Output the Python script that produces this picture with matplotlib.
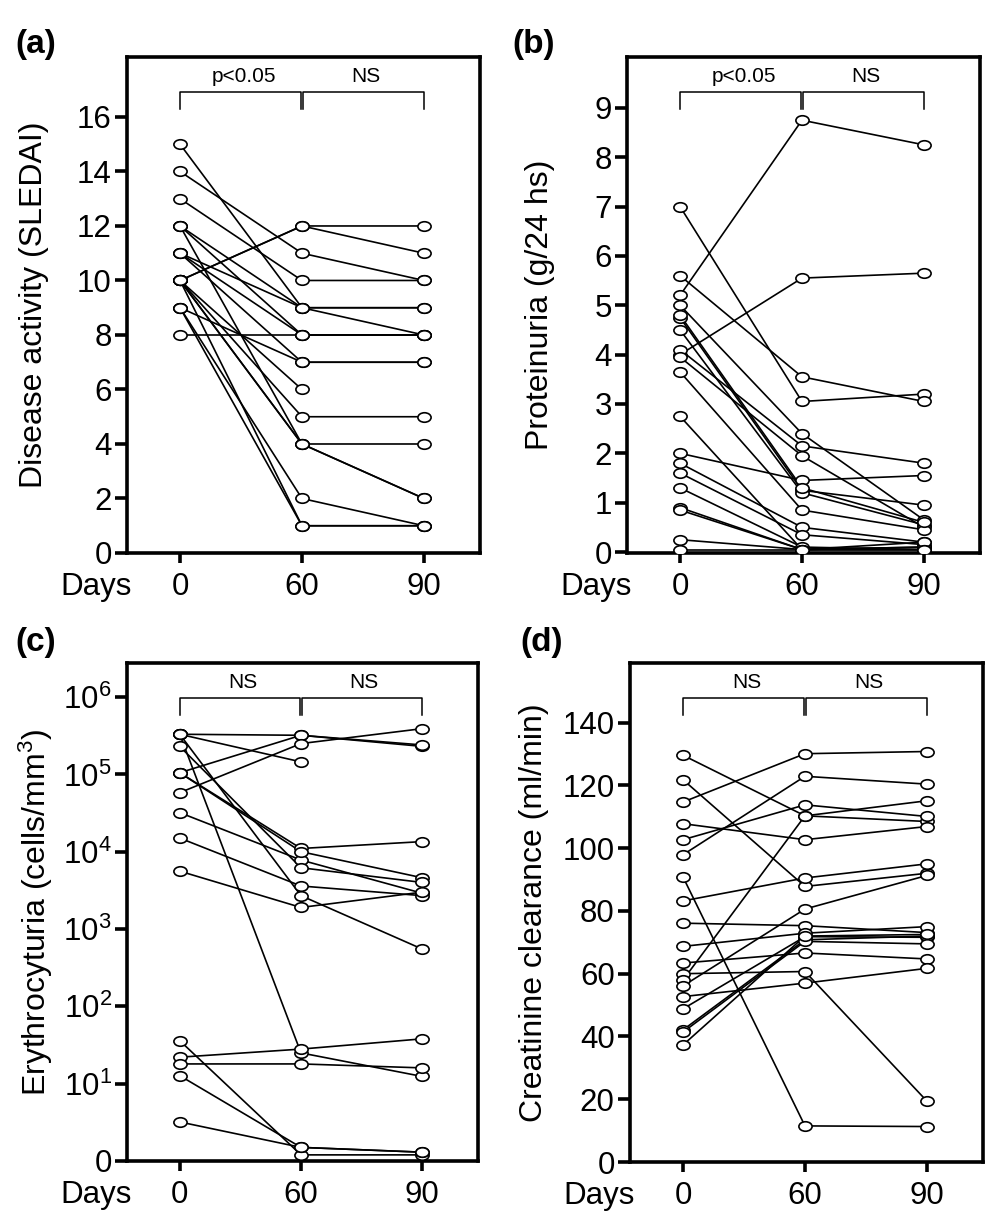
import numpy as np
import matplotlib
matplotlib.use("Agg")
import matplotlib.pyplot as plt
from matplotlib.path import Path
from matplotlib.transforms import Affine2D, blended_transform_factory
from matplotlib.ticker import NullLocator

plt.rcParams['font.family'] = ['Liberation Sans', 'DejaVu Sans']
plt.rcParams['mathtext.fontset'] = 'custom'
plt.rcParams['mathtext.rm'] = 'Liberation Sans'

days = ['0', '60', '90']

# (a) disease activity, SLEDAI, one entry per patient
sledai_d0 = [15, 14, 13, 10, 10, 12, 12, 11, 11, 8, 9, 10, 10, 10, 10, 9, 9, 12, 11, 10]
sledai_d60 = [9, 11, 10, 12, 12, 9, 8, 8, 7, 8, 7, 6, 5, 4, 4, 2, 1, 4, 9, 1]
sledai_d90 = [9, 10, 10, 12, 11, 8, 8, 8, 7, 8, 7, np.nan, 5, 4, 2, 1, 1, 2, 9, 1]

# (b) proteinuria, g/24 hs
prot_d0 = [7.0, 5.6, 5.2, 4.0, 5.0, 4.75, 4.5, 4.1, 3.95, 3.65, 2.75, 2.0, 1.8, 1.6, 1.3, 0.9, 0.85, 0.25, 0.05, 4.8]
prot_d60 = [3.05, 3.55, 8.75, 5.55, 2.4, 1.25, 1.2, 2.15, 1.95, 0.85, 0.05, 1.45, 0.5, 0.35, 0.1, 0.05, 0.05, 0.05, 0.05, 1.3]
prot_d90 = [3.2, 3.05, 8.25, 5.65, 0.65, 0.95, 0.55, 1.8, 0.5, 0.45, 0.1, 1.55, 0.2, 0.15, 0.05, 0.1, 0.2, 0.05, 0.05, 0.6]

# (c) erythrocyturia, cells/mm3
ery_d0 = [3.3e5, 3.3e5, 1.05e5, 5.8e4, 3.3e5, 22, 3.3e5, 36, 12.7, 3.2, 18, 3.2e4, 1.5e4, 5.6e3, 1.05e5, 1.05e5, 2.3e5]
ery_d60 = [3.2e5, 1.45e5, 3.2e5, 2.5e5, 25, 28, 2.7e3, 1.2, 1.5, 1.5, 18, 7.8e3, 3.6e3, 1.9e3, 1.1e4, 1.0e4, 6.2e3]
ery_d90 = [2.3e5, np.nan, 2.4e5, 3.9e5, 12.4, 38, 550, 1.2, 1.3, 1.3, 16, 2.9e3, 2.7e3, 3.0e3, 1.35e4, 4.6e3, 4.0e3]

# (d) creatinine clearance, ml/min
crea_d0 = [129.6, 121.8, 114.7, 107.8, 102.7, 97.9, 90.8, 83.2, 76.1, 68.7, 63.4, 60.0, 58.0, 56.1, 52.7, 48.8, 42.1, 41.4, 37.3]
crea_d60 = [110.3, 87.8, 130.1, 102.7, 113.8, 122.9, 11.5, 90.5, 75.3, 72.9, 66.6, 60.7, 110.3, 80.6, 57.0, 71.8, 70.8, 70.3, 72.0]
crea_d90 = [108.5, 92.0, 130.8, 106.9, 110.1, 120.4, 11.3, 95.0, 73.1, 75.0, 64.7, 19.4, 115.1, 91.3, 61.7, 71.6, 72.0, 69.5, 72.5]

# open ellipse marker
ell = Path.unit_circle().transformed(Affine2D().scale(1.0, 0.72))

W, H = 1004, 1229
fig = plt.figure(figsize=(W / 100, H / 100), dpi=100)


def px_rect(left, top, right, bottom):
    return [left / W, 1 - bottom / H, (right - left) / W, (bottom - top) / H]


def panel(rect, d0, d60, d90, ylabel, labelx, tests, letter, letter_xy):
    ax = fig.add_axes(rect)
    x = np.arange(3)
    vals = np.array([d0, d60, d90], dtype=float)
    for i in range(vals.shape[1]):
        ax.plot(x, vals[:, i], color='k', lw=1.2, zorder=2)
    for j in range(3):
        ax.plot(np.full(vals.shape[1], j), vals[j], ls='none', marker=ell,
                ms=9.5, mfc='white', mec='k', mew=1.2, zorder=3)
    ax.set_xlim(-0.435, 2.46)
    ax.set_xticks(x)
    ax.set_xticklabels(days)
    for s in ax.spines.values():
        s.set_linewidth(2.6)
    ax.tick_params(axis='y', direction='out', length=9, width=2.6, labelsize=22.5, pad=2)
    ax.tick_params(axis='x', direction='out', length=7, width=2.6, labelsize=22.5, pad=7)
    ax.set_ylabel(ylabel, fontsize=23)
    ax.yaxis.set_label_coords(labelx, 0.5)
    ax.annotate('Days', xy=(0.014, 0), xycoords='axes fraction', xytext=(0, -14),
                textcoords='offset points', ha='right', va='top', fontsize=22.5)

    # significance brackets
    tr = blended_transform_factory(ax.transData, ax.transAxes)
    lo, hi = 0.895, 0.929
    ax.plot([0, 0, 0.99, 0.99], [lo, hi, hi, lo], transform=tr, color='k', lw=1.1, clip_on=False)
    ax.plot([1.01, 1.01, 2, 2], [lo, hi, hi, lo], transform=tr, color='k', lw=1.1, clip_on=False)
    for k, t in enumerate(tests):
        ax.text(k + 0.52, 0.96, t, transform=tr, ha='center', va='center', fontsize=15)

    fig.text(letter_xy[0] / W, 1 - letter_xy[1] / H, letter, fontsize=24,
             fontweight='bold', ha='left', va='center')
    return ax


axa = panel(px_rect(127, 57, 480, 553), sledai_d0, sledai_d60, sledai_d90,
            'Disease activity (SLEDAI)', -0.22, ['p<0.05', 'NS'], '(a)', (15, 44))
axa.set_ylim(0, 18.2)
axa.set_yticks(range(0, 17, 2))

axb = panel(px_rect(627, 57, 980, 553), prot_d0, prot_d60, prot_d90,
            'Proteinuria (g/24 hs)', -0.205, ['p<0.05', 'NS'], '(b)', (512, 44))
axb.set_ylim(-0.02, 10.03)
axb.set_yticks(range(0, 10))

axc = panel(px_rect(127, 663, 478, 1161), ery_d0, ery_d60, ery_d90,
            r'Erythrocyturia (cells/mm$\mathregular{^3}$)', -0.205, ['NS', 'NS'], '(c)', (15, 643))
axc.set_yscale('log')
axc.set_ylim(1, 10 ** 6.44)
axc.set_yticks([10.0 ** k for k in range(7)])
axc.set_yticklabels(['0'] + [r'$\mathregular{10^{%d}}$' % k for k in range(1, 7)])
axc.yaxis.set_minor_locator(NullLocator())

axd = panel(px_rect(630, 663, 983, 1162), crea_d0, crea_d60, crea_d90,
            'Creatinine clearance (ml/min)', -0.23, ['NS', 'NS'], '(d)', (520, 643))
axd.set_ylim(0, 159)
axd.set_yticks(range(0, 141, 20))

fig.savefig('out.png', dpi=100)
